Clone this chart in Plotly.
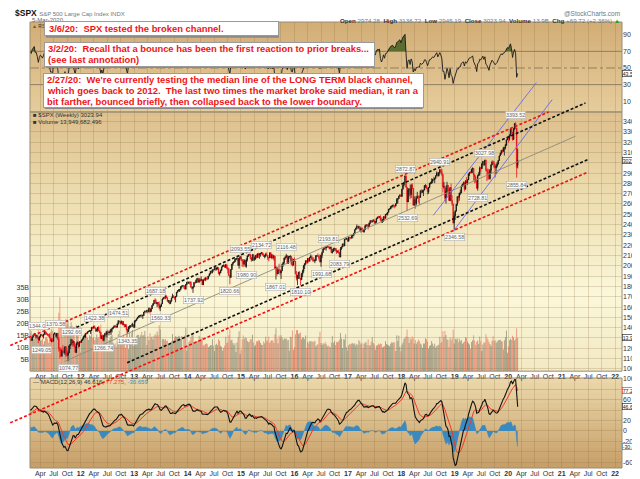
import numpy as np
import pandas as pd
import plotly.graph_objects as go

# ---------------- data (weekly, Friday week-ends) ----------------
first_friday = "2010-01-08"

close_2010 = [1144.98, 1136.03, 1091.76, 1073.87, 1066.19, 1075.51, 1109.17, 1104.49,
              1138.70, 1149.99, 1159.90, 1166.59, 1178.10, 1194.37, 1192.13, 1217.28, 1186.69,
              1110.88, 1135.68, 1087.69, 1089.41, 1064.88, 1091.60, 1117.51, 1076.76,
              1022.58, 1077.96, 1064.88, 1102.66, 1101.60, 1121.64, 1079.25, 1071.69, 1064.59,
              1104.51, 1109.55, 1125.59, 1148.67, 1146.24, 1165.15, 1176.19, 1183.08, 1183.26,
              1225.85, 1199.21, 1199.73, 1189.40, 1224.71, 1240.40, 1243.91, 1256.77, 1257.64]

close_2011 = [1271.50, 1293.24, 1283.35, 1276.34, 1310.87, 1329.15, 1343.01, 1319.88,
              1321.15, 1304.28, 1279.20, 1313.80, 1332.41, 1328.17, 1319.68, 1337.38, 1363.61,
              1340.20, 1337.77, 1333.27, 1331.10, 1300.16, 1270.98, 1271.50, 1268.45,
              1339.67, 1343.80, 1316.14, 1345.02, 1292.28, 1199.38, 1178.81, 1123.53, 1176.80,
              1173.97, 1154.23, 1216.01, 1136.43, 1131.42, 1155.46, 1224.58, 1238.25, 1285.09,
              1253.23, 1263.85, 1215.65, 1158.67, 1244.28, 1255.19, 1219.66, 1265.33, 1257.60]
high_2011 = [1278.2, 1293.2, 1296.1, 1299.7, 1311.0, 1330.8, 1344.1, 1342.6,
             1332.3, 1330.9, 1301.2, 1314.8, 1337.9, 1339.5, 1328.2, 1337.5, 1364.6,
             1370.6, 1359.4, 1346.8, 1334.6, 1345.2, 1302.0, 1292.5, 1298.6,
             1341.0, 1356.5, 1343.8, 1347.0, 1347.0, 1307.4, 1208.5, 1208.5, 1190.7,
             1230.7, 1204.4, 1216.0, 1220.4, 1195.9, 1171.4, 1224.6, 1239.0, 1292.7,
             1284.6, 1277.6, 1266.0, 1208.5, 1255.7, 1267.1, 1255.2, 1265.4, 1269.4]
low_2011 = [1257.6, 1262.2, 1271.3, 1275.1, 1276.3, 1307.6, 1324.6, 1294.3,
            1302.6, 1292.0, 1249.1, 1279.2, 1305.3, 1322.9, 1309.7, 1294.7, 1332.2,
            1329.2, 1333.2, 1318.5, 1311.8, 1297.9, 1268.6, 1258.1, 1262.9,
            1268.5, 1333.2, 1306.5, 1295.9, 1282.9, 1168.1, 1101.5, 1122.0, 1121.1,
            1170.8, 1150.4, 1136.2, 1114.2, 1131.1, 1074.8, 1157.5, 1191.5, 1231.0,
            1215.4, 1226.6, 1209.4, 1158.7, 1158.7, 1231.5, 1202.4, 1212.6, 1248.6]
volume_2011 = [14.8, 15.2, 16.0, 16.8, 15.5, 14.2, 13.5, 15.9,
               15.0, 15.3, 19.8, 13.2, 12.8, 13.0, 13.6, 11.2, 12.5,
               14.0, 14.3, 13.6, 11.9, 15.8, 16.5, 17.6, 16.9,
               13.4, 12.4, 14.9, 13.6, 16.2, 24.5, 31.0, 21.5, 17.6,
               14.3, 15.8, 17.8, 22.0, 19.5, 21.2, 17.0, 18.8, 20.5,
               19.0, 16.2, 15.8, 11.5, 19.2, 16.0, 18.5, 11.0, 7.8]

close_2012 = [1277.81, 1289.09, 1315.38, 1316.33, 1344.90, 1342.64, 1361.23, 1365.74,
              1369.63, 1370.87, 1404.17, 1397.11, 1408.47, 1398.08, 1370.26, 1378.53, 1403.36,
              1369.10, 1353.39, 1295.22, 1317.82, 1278.04, 1325.66, 1342.84, 1335.02, 1362.16,
              1354.68, 1356.78, 1362.66, 1385.97, 1390.99, 1405.87, 1418.16, 1411.13, 1406.58,
              1437.92, 1465.77, 1460.15, 1440.67, 1460.93, 1428.59, 1433.19, 1411.94,
              1414.20, 1379.85, 1359.88, 1409.15, 1416.18, 1418.07, 1413.58, 1430.15, 1402.43]
high_2012 = [1284.6, 1296.8, 1315.5, 1333.5, 1345.3, 1354.3, 1361.5, 1368.9,
             1378.0, 1373.9, 1405.9, 1409.0, 1419.2, 1422.4, 1398.1, 1392.8, 1406.6,
             1415.3, 1373.9, 1358.5, 1328.5, 1334.9, 1329.0, 1343.1, 1363.5, 1362.2,
             1374.8, 1357.0, 1380.4, 1389.2, 1394.2, 1407.1, 1418.7, 1426.7, 1413.5,
             1438.0, 1474.5, 1467.1, 1460.4, 1471.0, 1461.0, 1464.0, 1433.8,
             1434.3, 1434.3, 1388.8, 1409.2, 1419.7, 1423.7, 1438.6, 1448.0, 1430.2]
low_2012 = [1258.9, 1274.4, 1290.2, 1306.1, 1300.5, 1335.0, 1340.8, 1356.0,
            1363.0, 1340.0, 1370.3, 1386.9, 1391.6, 1392.0, 1357.4, 1362.0, 1358.8,
            1367.9, 1343.1, 1292.0, 1295.2, 1277.0, 1266.7, 1306.6, 1324.4, 1306.6,
            1350.4, 1325.4, 1345.1, 1329.2, 1354.7, 1391.0, 1397.3, 1397.0, 1397.0,
            1398.8, 1429.1, 1451.0, 1430.5, 1440.7, 1425.5, 1428.6, 1403.3,
            1405.9, 1373.0, 1343.4, 1359.9, 1385.4, 1398.1, 1411.9, 1411.9, 1401.6]
volume_2012 = [12.8, 13.9, 15.2, 15.0, 15.5, 14.6, 14.0, 13.2,
               15.1, 14.5, 17.2, 13.9, 14.2, 13.0, 13.9, 15.4, 14.0,
               14.2, 15.6, 19.6, 14.3, 15.1, 13.9, 16.2, 16.6, 17.6,
               10.8, 13.1, 13.9, 14.8, 15.2, 11.9, 11.1, 11.6, 10.2,
               12.6, 15.5, 16.9, 13.6, 13.2, 12.1, 15.3, 14.0,
               9.8, 16.8, 17.6, 9.3, 16.1, 14.2, 15.9, 17.2, 10.6]

close_2013 = [1466.47, 1472.05, 1485.98, 1502.96, 1513.17, 1517.93, 1519.79, 1515.60,
              1518.20, 1551.18, 1560.70, 1556.89, 1569.19, 1553.28, 1588.85, 1555.25, 1582.24,
              1614.42, 1633.70, 1667.47, 1649.60, 1630.74, 1643.38, 1626.73, 1592.43, 1606.28,
              1631.89, 1680.19, 1692.09, 1691.65, 1709.67, 1691.42, 1655.83, 1663.50, 1632.97,
              1655.17, 1687.99, 1709.91, 1691.75, 1690.50, 1703.20, 1744.50, 1759.77,
              1761.64, 1770.61, 1798.18, 1804.76, 1805.81, 1805.09, 1775.32, 1818.32, 1841.40]
high_2013 = [1467.9, 1472.3, 1486.0, 1503.3, 1514.4, 1518.3, 1524.7, 1530.9,
             1525.8, 1552.5, 1563.6, 1564.9, 1570.3, 1573.7, 1597.4, 1588.9, 1585.8,
             1618.5, 1635.0, 1667.5, 1687.2, 1674.2, 1646.5, 1648.7, 1654.2, 1620.1,
             1632.1, 1680.2, 1693.1, 1698.8, 1709.7, 1709.2, 1697.9, 1666.2, 1664.6,
             1664.8, 1691.0, 1729.9, 1712.0, 1700.6, 1704.9, 1745.3, 1759.8,
             1775.2, 1774.5, 1798.2, 1804.8, 1813.6, 1810.0, 1811.5, 1823.8, 1844.9]
low_2013 = [1402.4, 1451.6, 1463.8, 1485.0, 1496.3, 1495.0, 1506.3, 1497.3,
            1485.0, 1514.9, 1547.4, 1538.6, 1546.2, 1539.5, 1553.3, 1536.0, 1555.3,
            1581.3, 1614.4, 1626.7, 1635.5, 1630.7, 1598.2, 1608.1, 1577.7, 1560.3,
            1604.6, 1631.7, 1672.4, 1676.0, 1676.2, 1684.9, 1652.6, 1639.4, 1627.5,
            1633.4, 1655.2, 1688.0, 1687.1, 1670.4, 1646.5, 1700.0, 1740.5,
            1752.7, 1746.2, 1761.6, 1780.0, 1799.1, 1779.1, 1772.3, 1767.9, 1819.0]
volume_2013 = [12.9, 13.6, 14.8, 15.3, 15.2, 14.1, 15.0, 16.4,
               14.9, 15.0, 16.8, 14.2, 11.0, 14.6, 13.1, 15.9, 14.1,
               14.5, 13.3, 14.8, 15.6, 14.9, 16.6, 15.0, 19.2, 17.5,
               9.8, 13.4, 13.6, 13.0, 13.5, 12.6, 12.8, 11.2, 11.4,
               11.2, 12.4, 15.6, 13.0, 14.0, 14.6, 14.4, 14.3,
               14.8, 14.5, 13.4, 14.7, 9.1, 14.2, 14.9, 18.2, 8.7]

close_2014 = [1831.37, 1842.37, 1838.70, 1790.29, 1782.59, 1797.02, 1838.63, 1836.25, 1859.45,
              1878.04, 1841.13, 1866.52, 1857.62, 1865.09, 1815.69, 1864.85, 1863.40,
              1881.14, 1878.48, 1877.86, 1900.53, 1923.57, 1949.44, 1936.16, 1962.87, 1960.96,
              1985.44, 1967.57, 1978.22, 1978.34, 1925.15, 1931.59, 1955.06, 1988.40, 2003.37,
              2007.71, 1985.54, 2010.40, 1982.85, 1967.90, 1906.13, 1886.76, 1964.58, 2018.05,
              2031.92, 2039.82, 2063.50, 2067.56, 2075.37, 2002.33, 2070.65, 2088.77]
high_2014 = [1849.4, 1843.2, 1850.8, 1849.3, 1798.8, 1798.0, 1841.6, 1846.5, 1867.9,
             1883.6, 1878.0, 1884.0, 1875.2, 1897.3, 1868.4, 1869.6, 1884.9,
             1891.3, 1885.1, 1902.2, 1901.3, 1924.0, 1949.4, 1955.6, 1963.9, 1968.2,
             1985.6, 1985.6, 1983.9, 1991.4, 1985.2, 1942.9, 1964.0, 1994.8, 2005.0,
             2011.2, 2007.7, 2019.3, 2009.1, 1986.2, 1977.8, 1912.1, 1965.3, 2018.2,
             2034.3, 2046.2, 2071.5, 2075.8, 2079.5, 2074.6, 2077.9, 2093.6]
low_2014 = [1827.7, 1823.7, 1815.3, 1790.3, 1770.5, 1737.9, 1791.8, 1824.6, 1834.4,
            1834.6, 1839.6, 1839.7, 1842.4, 1859.1, 1814.4, 1816.0, 1859.7,
            1850.6, 1859.8, 1862.4, 1868.1, 1900.5, 1915.9, 1925.8, 1927.1, 1944.7,
            1958.2, 1952.9, 1955.6, 1962.4, 1916.4, 1904.8, 1928.8, 1956.0, 1988.4,
            1990.1, 1985.2, 1978.5, 1965.0, 1926.0, 1905.0, 1820.7, 1886.8, 1961.0,
            2001.0, 2030.2, 2034.5, 2063.0, 2049.6, 2002.3, 1972.6, 2068.0]
volume_2014 = [10.6, 12.2, 12.9, 14.3, 15.4, 15.0, 12.0, 11.5, 12.5,
               12.6, 12.7, 14.8, 12.9, 13.6, 14.2, 10.9, 10.8,
               11.4, 11.7, 11.3, 10.0, 10.4, 10.9, 11.0, 13.4, 10.7,
               8.5, 11.1, 11.5, 10.9, 13.5, 12.7, 10.7, 10.2, 8.6,
               9.8, 10.8, 14.4, 11.8, 12.1, 15.1, 17.5, 12.9, 13.3,
               11.8, 11.0, 11.7, 8.0, 12.0, 14.3, 16.7, 7.3]

close_2015 = [2058.20, 2044.81, 2019.42, 2051.82, 1994.99, 2055.47, 2096.99, 2110.30, 2104.50,
              2071.26, 2053.40, 2108.10, 2061.02, 2066.96, 2102.06, 2081.18, 2117.69,
              2108.29, 2116.10, 2122.73, 2126.06, 2107.39, 2092.83, 2094.11, 2109.99, 2101.49,
              2076.78, 2076.62, 2126.64, 2079.65, 2103.84, 2077.57, 2091.54, 1970.89, 1988.87,
              1921.22, 1961.05, 1958.03, 1931.34, 1951.36, 2014.89, 2033.11, 2075.15, 2079.36,
              2099.20, 2023.04, 2089.17, 2090.11, 2091.69, 2012.37, 2005.55, 2060.99, 2043.94]
high_2015 = [2093.6, 2064.4, 2064.4, 2064.6, 2057.6, 2072.4, 2097.0, 2110.6, 2119.6,
             2117.5, 2083.5, 2114.9, 2114.9, 2090.0, 2102.6, 2111.9, 2120.9,
             2125.9, 2117.6, 2123.9, 2134.7, 2129.5, 2121.9, 2108.0, 2126.7, 2130.0,
             2101.5, 2083.4, 2128.7, 2132.8, 2114.2, 2112.7, 2105.4, 2096.2, 1993.5,
             1987.7, 1975.0, 2020.9, 1970.0, 1953.0, 2020.1, 2033.5, 2079.7, 2094.3,
             2116.5, 2093.8, 2097.1, 2094.1, 2104.3, 2090.4, 2076.7, 2067.7, 2081.6]
low_2015 = [2046.0, 1992.4, 1988.1, 2004.5, 1989.2, 1980.9, 2041.9, 2085.4, 2098.0,
            2066.4, 2039.7, 2050.0, 2045.5, 2048.4, 2059.8, 2072.4, 2079.1,
            2077.6, 2067.9, 2089.4, 2111.1, 2099.2, 2085.7, 2072.1, 2084.0, 2098.3,
            2056.3, 2044.0, 2076.6, 2079.0, 2063.5, 2067.9, 2052.1, 1970.8, 1867.0,
            1903.1, 1921.2, 1950.0, 1908.8, 1871.9, 1951.4, 1991.0, 2013.3, 2058.8,
            2080.0, 2022.0, 2019.4, 2070.3, 2042.4, 2011.1, 1993.3, 2005.9, 2043.6]
volume_2015 = [9.0, 13.3, 14.9, 13.6, 14.3, 13.9, 12.6, 12.1, 12.4,
               13.5, 13.3, 15.3, 12.0, 10.4, 11.1, 12.5, 12.4,
               13.0, 12.8, 11.8, 11.1, 11.0, 12.4, 11.7, 14.4, 12.8,
               12.4, 14.4, 11.8, 12.6, 13.0, 12.9, 11.8, 15.5, 18.0,
               13.8, 11.7, 14.9, 13.9, 15.0, 14.1, 13.0, 13.7, 13.6,
               13.7, 13.0, 13.1, 8.6, 14.4, 14.3, 17.0, 9.0, 10.1]

close_2016 = [1922.03, 1880.33, 1906.90, 1940.24, 1880.05, 1864.78, 1917.78, 1948.05,
              1999.99, 2022.19, 2049.58, 2035.94, 2072.78, 2047.60, 2080.73, 2091.58, 2065.30,
              2057.14, 2046.61, 2052.32, 2099.06, 2099.13, 2096.07, 2071.22, 2037.41,
              2102.95, 2129.90, 2161.74, 2175.03, 2173.60, 2182.87, 2184.05, 2183.87, 2169.04,
              2179.98, 2127.81, 2139.16, 2164.69, 2168.27, 2153.74, 2132.98, 2141.16, 2126.41,
              2085.18, 2164.45, 2181.90, 2213.35, 2191.95, 2259.53, 2258.07, 2263.79, 2238.83]
high_2016 = [2038.2, 1950.3, 1908.9, 1940.2, 1947.2, 1881.6, 1930.7, 1962.9,
             2009.1, 2022.4, 2052.4, 2056.6, 2074.0, 2072.6, 2087.8, 2111.1, 2099.9,
             2083.4, 2084.9, 2064.2, 2099.1, 2104.0, 2120.6, 2096.1, 2113.3,
             2104.0, 2131.7, 2169.1, 2175.6, 2177.1, 2182.9, 2188.5, 2193.8, 2187.9,
             2184.9, 2187.9, 2163.3, 2175.3, 2175.3, 2169.6, 2169.6, 2148.4, 2154.8,
             2131.4, 2182.3, 2188.1, 2213.4, 2214.1, 2259.8, 2277.5, 2273.0, 2268.9]
low_2016 = [1918.5, 1857.8, 1812.3, 1872.7, 1872.7, 1810.1, 1864.8, 1891.0,
            1931.8, 1969.3, 2008.2, 2022.5, 2022.5, 2033.8, 2039.7, 2075.8, 2053.1,
            2039.5, 2043.1, 2025.9, 2047.3, 2085.4, 2088.8, 2050.4, 2032.1,
            1991.7, 2074.0, 2131.3, 2154.8, 2157.0, 2147.6, 2178.0, 2175.0, 2160.4,
            2157.1, 2127.8, 2119.1, 2139.2, 2145.0, 2142.6, 2114.7, 2126.0, 2119.4,
            2083.8, 2084.0, 2156.1, 2183.0, 2187.4, 2192.4, 2248.4, 2253.8, 2233.6]
volume_2016 = [15.5, 17.3, 17.1, 15.7, 15.8, 16.2, 13.4, 14.2,
               14.1, 13.5, 14.9, 9.7, 12.3, 11.6, 12.6, 12.4, 12.5,
               12.4, 12.2, 12.7, 10.3, 11.0, 11.4, 14.3, 16.5,
               11.8, 11.0, 11.7, 11.3, 12.2, 11.5, 10.4, 10.8, 10.3,
               10.0, 12.0, 14.6, 11.8, 12.6, 11.0, 12.3, 12.1, 12.5,
               13.2, 16.0, 13.7, 9.7, 13.4, 13.3, 15.5, 10.0, 8.7]

close_2017 = [2276.98, 2274.64, 2271.31, 2294.69, 2297.42, 2316.10, 2351.16, 2367.34,
              2383.12, 2372.60, 2378.25, 2343.98, 2362.72, 2355.54, 2328.95, 2348.69, 2384.20,
              2399.29, 2390.90, 2381.73, 2415.82, 2439.07, 2431.77, 2433.15, 2438.30, 2423.41,
              2425.18, 2459.27, 2472.54, 2472.10, 2476.83, 2441.32, 2425.55, 2443.05,
              2476.55, 2461.43, 2500.23, 2502.22, 2519.36, 2549.33, 2553.17, 2575.21, 2581.07,
              2587.84, 2582.30, 2578.85, 2602.42, 2642.22, 2651.50, 2675.81, 2683.34, 2673.61]
high_2017 = [2282.1, 2279.3, 2278.7, 2301.0, 2299.4, 2319.2, 2351.3, 2368.3,
             2401.0, 2383.9, 2390.0, 2382.4, 2370.4, 2378.4, 2361.7, 2355.9, 2398.2,
             2399.3, 2403.9, 2405.8, 2418.7, 2440.2, 2446.2, 2440.3, 2453.8, 2450.4,
             2434.0, 2463.5, 2477.6, 2484.0, 2480.4, 2490.9, 2468.2, 2454.8,
             2480.4, 2474.5, 2500.2, 2508.9, 2519.4, 2552.5, 2557.6, 2575.4, 2583.0,
             2588.4, 2597.0, 2588.0, 2604.2, 2657.7, 2652.5, 2679.6, 2695.0, 2692.1]
low_2017 = [2245.1, 2254.3, 2258.8, 2263.2, 2267.2, 2288.4, 2312.0, 2355.1,
            2358.9, 2354.5, 2356.0, 2335.7, 2322.3, 2344.5, 2328.9, 2322.0, 2349.0,
            2379.0, 2381.6, 2352.7, 2381.7, 2403.6, 2415.7, 2419.0, 2431.3, 2405.7,
            2407.7, 2415.0, 2452.8, 2459.9, 2463.4, 2437.8, 2417.4, 2417.0,
            2428.2, 2446.6, 2474.5, 2496.0, 2488.0, 2520.4, 2543.8, 2547.9, 2557.4,
            2566.2, 2566.3, 2557.5, 2580.5, 2600.3, 2605.5, 2650.6, 2676.1, 2673.6]
volume_2017 = [11.0, 11.5, 11.3, 11.6, 11.8, 11.4, 11.7, 10.6,
               11.4, 11.0, 13.0, 12.3, 11.3, 11.8, 9.7, 11.5, 12.0,
               12.1, 11.0, 13.4, 10.7, 11.0, 12.4, 14.3, 11.8, 11.2,
               9.0, 10.6, 11.0, 11.6, 11.2, 11.6, 11.4, 9.9,
               10.2, 10.5, 12.5, 11.4, 11.1, 10.9, 10.4, 11.5, 12.1,
               11.9, 12.2, 12.0, 8.5, 15.1, 12.6, 14.8, 10.2, 8.3]

close_2018 = [2743.15, 2786.24, 2810.30, 2872.87, 2762.13, 2619.55, 2732.22, 2747.30,
              2691.25, 2786.57, 2752.01, 2588.26, 2640.87, 2604.47, 2656.30, 2670.14, 2669.91,
              2663.42, 2727.72, 2712.97, 2721.33, 2734.62, 2779.03, 2779.66, 2754.88, 2718.37,
              2759.82, 2801.31, 2801.83, 2818.82, 2840.35, 2833.28, 2850.13, 2874.69, 2901.52,
              2871.68, 2904.98, 2929.67, 2913.98, 2885.57, 2767.13, 2767.78, 2658.69,
              2723.06, 2781.01, 2736.27, 2632.56, 2760.17, 2633.08, 2599.95, 2416.62, 2485.74]
high_2018 = [2743.5, 2787.8, 2810.3, 2872.9, 2870.6, 2763.4, 2754.4, 2747.8,
             2789.2, 2786.6, 2801.9, 2754.0, 2674.8, 2672.1, 2680.3, 2717.5, 2683.6,
             2682.9, 2732.9, 2742.1, 2739.2, 2736.9, 2779.9, 2791.5, 2780.2, 2752.7,
             2763.4, 2804.5, 2814.2, 2848.0, 2841.6, 2863.4, 2855.6, 2876.2, 2916.5,
             2906.3, 2908.3, 2940.9, 2939.9, 2939.9, 2889.4, 2813.3, 2778.9,
             2756.6, 2815.2, 2776.0, 2746.8, 2760.9, 2800.2, 2685.4, 2601.1, 2520.3]
low_2018 = [2682.4, 2743.3, 2769.6, 2808.1, 2760.0, 2532.7, 2622.4, 2675.8,
            2647.3, 2658.9, 2741.4, 2585.9, 2593.1, 2553.8, 2586.3, 2660.0, 2612.7,
            2594.6, 2662.3, 2701.9, 2707.4, 2676.8, 2741.7, 2754.1, 2744.4, 2692.0,
            2698.7, 2770.8, 2789.2, 2795.1, 2802.5, 2825.8, 2802.0, 2846.0, 2884.7,
            2864.1, 2868.3, 2886.9, 2903.3, 2874.0, 2710.5, 2749.0, 2628.2,
            2603.5, 2704.9, 2670.8, 2631.1, 2649.8, 2621.5, 2583.2, 2408.6, 2346.6]
volume_2018 = [11.2, 12.0, 13.6, 13.9, 14.6, 17.5, 14.3, 11.8,
               14.0, 13.3, 14.5, 13.9, 11.6, 13.1, 11.5, 12.2, 13.3,
               12.6, 11.6, 11.2, 9.8, 11.6, 11.6, 13.8, 13.4, 12.3,
               9.4, 10.5, 11.0, 12.6, 11.6, 10.5, 11.5, 9.8, 10.5,
               10.9, 11.1, 14.4, 11.8, 12.3, 16.7, 14.2, 16.8,
               15.2, 13.3, 13.2, 10.1, 14.1, 12.9, 13.8, 17.5, 11.6]

close_2019 = [2531.94, 2596.26, 2670.71, 2664.76, 2706.53, 2707.88, 2775.60, 2792.67,
              2803.69, 2743.07, 2822.48, 2800.71, 2834.40, 2892.74, 2907.41, 2905.03, 2939.88,
              2945.64, 2881.40, 2859.53, 2826.06, 2752.06, 2873.34, 2886.98, 2950.46, 2941.76,
              2990.41, 3013.77, 2976.61, 3025.86, 2932.05, 2918.65, 2888.68, 2847.11, 2926.46,
              2978.71, 3007.39, 2992.07, 2961.79, 2952.01, 2970.27, 2986.20, 3022.55,
              3066.91, 3093.08, 3120.46, 3110.29, 3140.98, 3145.91, 3168.79, 3221.22, 3240.02]
high_2019 = [2538.1, 2597.8, 2675.5, 2681.8, 2709.0, 2739.0, 2775.7, 2794.0,
             2816.9, 2813.5, 2830.7, 2860.3, 2836.0, 2893.4, 2910.5, 2918.0, 2940.0,
             2954.1, 2931.7, 2892.2, 2876.0, 2840.0, 2884.9, 2910.6, 2964.2, 2958.1,
             2995.8, 3013.9, 3017.8, 3028.0, 3029.0, 2944.0, 2943.3, 2939.1, 2940.4,
             2985.9, 3020.7, 3022.0, 3016.4, 2983.9, 2993.3, 3008.3, 3027.4,
             3067.0, 3097.8, 3120.5, 3127.6, 3154.3, 3150.6, 3182.7, 3225.6, 3247.9]
low_2019 = [2444.0, 2524.6, 2580.3, 2612.7, 2631.1, 2687.3, 2703.7, 2767.0,
            2772.4, 2722.3, 2739.9, 2800.0, 2785.0, 2848.6, 2873.0, 2897.0, 2898.0,
            2898.7, 2825.4, 2801.4, 2805.5, 2750.5, 2728.8, 2873.0, 2874.7, 2912.2,
            2963.4, 2966.4, 2975.4, 2976.6, 2914.1, 2822.1, 2835.0, 2835.0, 2836.8,
            2891.9, 2979.4, 2990.0, 2946.0, 2855.9, 2892.0, 2955.0, 2986.2,
            3022.3, 3065.5, 3078.0, 3091.4, 3114.0, 3070.3, 3128.5, 3183.5, 3223.0]
volume_2019 = [13.6, 13.3, 13.8, 12.1, 13.6, 12.5, 13.1, 11.5,
               12.0, 12.4, 14.2, 14.0, 12.3, 11.7, 11.2, 9.4, 12.2,
               13.0, 15.0, 12.8, 11.1, 12.2, 12.8, 11.4, 14.5, 12.5,
               8.4, 11.2, 12.1, 11.9, 15.5, 14.1, 13.3, 12.2, 11.4,
               10.5, 12.7, 14.6, 12.7, 13.0, 11.9, 12.4, 13.0,
               13.1, 13.2, 12.5, 12.4, 9.1, 13.0, 14.2, 17.0, 7.7]

close_2020 = [3234.85, 3265.35, 3329.62, 3295.47, 3225.52, 3327.71, 3380.16, 3337.75, 2954.22, 3023.94]
high_2020 = [3258.1, 3275.6, 3329.9, 3337.8, 3285.9, 3337.6, 3385.1, 3393.5, 3259.8, 3136.7]
low_2020 = [3195.0, 3214.6, 3256.6, 3281.5, 3214.7, 3223.3, 3315.2, 3328.4, 2855.8, 2945.2]
volume_2020 = [10.4, 13.0, 13.6, 13.2, 14.8, 14.1, 12.9, 13.6, 18.0, 13.95]

last_week_open = 2974.28

# pivot labels
pivot_dates = ["2011-02-18", "2011-03-18", "2011-05-06", "2011-10-07", "2011-10-28",
               "2012-04-06", "2012-06-08", "2012-09-14", "2012-11-16", "2013-05-24",
               "2013-06-28", "2014-02-07", "2014-10-17", "2014-12-26", "2015-02-06",
               "2015-05-22", "2015-08-28", "2015-11-06", "2016-02-12", "2016-07-01",
               "2016-08-19", "2016-11-04", "2018-01-26", "2018-02-09", "2018-09-21",
               "2018-12-28", "2019-06-07", "2019-07-26", "2020-02-21", "2020-02-28"]
pivot_values = [1344.07, 1249.05, 1370.58, 1074.77, 1292.66, 1422.38, 1266.74, 1474.51, 1343.35, 1687.18,
                1560.33, 1737.92, 1820.66, 2093.55, 1980.90, 2134.72, 1867.01, 2116.48, 1810.10, 1991.68,
                2193.81, 2083.79, 2872.87, 2532.69, 2940.91, 2346.58, 2728.81, 3027.98, 3393.52, 2855.84]
pivot_kind = ["H", "L", "H", "L", "H", "H", "L", "H", "L", "H",
              "L", "L", "L", "H", "L", "H", "L", "H", "L", "L",
              "H", "L", "H", "L", "H", "L", "L", "H", "H", "L"]
pivot_nudge = {0: 4, 1: 3, 2: 10}

# trend / channel lines: (start date, start price, end date, end price)
upper_red = ("2010-09-07", 1226.8, "2020-10-04", 3493.4)
lower_red = ("2010-09-07", 477.2, "2021-07-02", 2910.8)
upper_black = ("2011-09-01", 1344.7, "2021-06-12", 3579.8)
median_line = ("2011-09-14", 1073.3, "2021-04-05", 3257.6)
lower_black = ("2012-11-14", 1060.6, "2021-07-02", 3032.7)
blue_upper = ("2018-08-07", 2489.6, "2020-07-12", 3777.0)
blue_lower = ("2018-12-20", 2332.0, "2020-10-28", 3613.0)

note_lines = [
    ["3/6/20:\u00a0 SPX tested the broken channel."],
    ["3/2/20:\u00a0 Recall that a bounce has been the first reaction to prior breaks...",
     "(see last annotation)"],
    ["2/27/20:\u00a0 We're currently testing the median line of the LONG TERM black channel,",
     "which goes back to 2012.\u00a0 The last two times the market broke said median, it ran a",
     "bit farther, bounced briefly, then collapsed back to the lower boundary."],
]

price_ticks = list(range(1000, 3401, 100))
price_hidden = [3000, 1300]
volume_ticks = [5, 10, 15, 20, 25, 30, 35]
rsi_ticks = [10, 30, 50, 70, 90]
macd_ticks = [-60, -40, -20, 0, 20, 40, 60, 80, 100]
macd_hidden = [80, 40, -40]
month_names = {4: "Apr", 7: "Jul", 10: "Oct"}

quote_open, quote_high, quote_low, quote_close = "2974.28", "3136.72", "2945.19", "3023.94"
quote_volume, quote_chg = "13.9B", "+69.72 (+2.36%)"
volume_full = "13,949,682,496"
macd_text = ("46.616", "77.275", "-30.659")

# ---------------- assemble ----------------
years = list(range(2011, 2021))
G = globals()
for y in years:
    n = len(G["close_%d" % y])
    for k in ("high", "low", "volume"):
        if len(G["%s_%d" % (k, y)]) != n:
            raise ValueError("length mismatch %s_%d" % (k, y))

closes = list(close_2010)
highs, lows, vols = [], [], []
for y in years:
    closes += G["close_%d" % y]
    highs += G["high_%d" % y]
    lows += G["low_%d" % y]
    vols += G["volume_%d" % y]

dates = pd.date_range(first_friday, periods=len(closes), freq="W-FRI")
nv = len(highs)
vdates = dates[-nv:]
vclose = closes[-nv:]
prev_close = closes[-nv - 1:-1]
opens = list(prev_close)
opens[-1] = last_week_open

cs = pd.Series(closes, dtype=float)
delta = cs.diff()
ag = delta.clip(lower=0).ewm(alpha=1 / 14, adjust=False).mean()
al = (-delta.clip(upper=0)).ewm(alpha=1 / 14, adjust=False).mean()
rsi = (100 - 100 / (1 + ag / al)).values
rsi[:14] = np.nan
macd = (cs.ewm(span=12, adjust=False).mean() - cs.ewm(span=26, adjust=False).mean()).values
signal = pd.Series(macd).ewm(span=9, adjust=False).mean().values
hist = macd - signal

# ---------------- layout geometry ----------------
W, H = 640, 479
ML, MR, MT, MB = 20, 23, 14, 9
PW, PH = W - ML - MR, H - MT - MB


def PX(x):
    return (x - ML) / PW


def PY(y):
    return (H - MB - y) / PH


RSI_TOP, RSI_BOT = 14, 106
MAIN_TOP, MAIN_BOT = 106, 371
MACD_TOP, MACD_BOT = 378, 470
rsi_dom = [PY(RSI_BOT), PY(RSI_TOP)]
main_dom = [PY(MAIN_BOT), PY(MAIN_TOP)]
macd_dom = [PY(MACD_BOT), PY(MACD_TOP)]

x_range = ["2011-01-20", "2022-02-17"]
price_range = [978.2, 3492.4]
vol_range = [0, 108.6]
rsi_range = [-2.9, 105.3]
macd_range = [-71.4, 101.9]

X0, X1 = pd.Timestamp(x_range[0]), pd.Timestamp(x_range[1])


def date_to_paper(d):
    return (pd.Timestamp(d) - X0) / (X1 - X0)


def price_to_paper(p):
    return main_dom[0] + (p - price_range[0]) / (price_range[1] - price_range[0]) * (main_dom[1] - main_dom[0])


fig = go.Figure()


def hex2rgb(h):
    h = h.lstrip("#")
    return [int(h[i:i + 2], 16) for i in (0, 2, 4)]


def grad_color(stops, t):
    for (t0, c0), (t1, c1) in zip(stops[:-1], stops[1:]):
        if t <= t1:
            f = (t - t0) / (t1 - t0) if t1 > t0 else 0
            a, b = hex2rgb(c0), hex2rgb(c1)
            return "rgb(%d,%d,%d)" % tuple(round(a[i] + (b[i] - a[i]) * f) for i in range(3))
    return stops[-1][1]


def add_gradient(top, bot, stops, n):
    step = (bot - top) / n
    for i in range(n):
        y0 = top + i * step
        y1 = min(bot, y0 + step + 0.7)
        fig.add_shape(type="rect", xref="paper", yref="paper", x0=0, x1=1,
                      y0=PY(y1), y1=PY(y0), line_width=0, layer="below",
                      fillcolor=grad_color(stops, (i + 0.5) / n))


add_gradient(RSI_TOP, RSI_BOT, [(0, "#d2ad76"), (1, "#e6cd9d")], 18)
add_gradient(MAIN_TOP, MAIN_BOT, [(0, "#dcbf8c"), (0.35, "#eedfb2"), (0.7, "#fbf7d9"), (1, "#f3e9c3")], 50)
add_gradient(MACD_TOP, MACD_BOT, [(0, "#ebd8ab"), (1, "#c69e67")], 18)

# ---- traces ----
vol_colors = ["rgba(90,90,75,0.55)" if c >= o else "rgba(225,75,55,0.55)"
              for c, o in zip(vclose, prev_close)]
fig.add_trace(go.Bar(x=vdates, y=vols, marker=dict(color=vol_colors, line_width=0),
                     width=6 * 86400000, xaxis="x", yaxis="y2", hoverinfo="skip"))

fig.add_trace(go.Candlestick(x=vdates, open=opens, high=highs, low=lows, close=vclose,
                             xaxis="x", yaxis="y3", whiskerwidth=0,
                             increasing=dict(line=dict(color="#111111", width=0.8), fillcolor="#111111"),
                             decreasing=dict(line=dict(color="#e8101a", width=0.8), fillcolor="#e8101a"),
                             hoverinfo="skip"))

fig.add_trace(go.Scatter(x=dates, y=[70] * len(dates), mode="lines", line=dict(width=0),
                         xaxis="x2", yaxis="y", hoverinfo="skip"))
fig.add_trace(go.Scatter(x=dates, y=np.maximum(rsi, 70), mode="lines", line=dict(width=0),
                         fill="tonexty", fillcolor="#5b6c31", xaxis="x2", yaxis="y", hoverinfo="skip"))
fig.add_trace(go.Scatter(x=dates, y=rsi, mode="lines", line=dict(color="#1a1a1a", width=0.9),
                         xaxis="x2", yaxis="y", hoverinfo="skip"))

fig.add_trace(go.Scatter(x=dates, y=hist, mode="lines", line=dict(color="#3a89bf", width=0.5),
                         fill="tozeroy", fillcolor="#3a89bf", xaxis="x3", yaxis="y4", hoverinfo="skip"))
fig.add_trace(go.Scatter(x=dates, y=signal, mode="lines", line=dict(color="#f03a2a", width=1.0),
                         xaxis="x3", yaxis="y4", hoverinfo="skip"))
fig.add_trace(go.Scatter(x=dates, y=macd, mode="lines", line=dict(color="#111111", width=1.1),
                         xaxis="x3", yaxis="y4", hoverinfo="skip"))

# ---- axes ----
tickvals, ticktext = [], []
for y in range(2011, 2023):
    for m in (1, 4, 7, 10):
        tickvals.append("%d-%02d-01" % (y, m))
        ticktext.append("<b>%02d</b>" % (y % 100) if m == 1 else month_names[m])

grid_c = "rgba(130,105,60,0.22)"
tick_font = dict(size=7, color="#333333", family="Liberation Sans, Arial, sans-serif")
xcommon = dict(type="date", range=x_range, tickvals=tickvals, ticktext=ticktext, showgrid=True,
               gridcolor=grid_c, gridwidth=1, ticks="", tickfont=tick_font, zeroline=False,
               showline=False, fixedrange=True)

fig.update_layout(
    width=W, height=H, margin=dict(l=ML, r=MR, t=MT, b=MB, pad=0),
    paper_bgcolor="white", plot_bgcolor="rgba(0,0,0,0)", showlegend=False, hovermode=False,
    font=dict(family="Liberation Sans, Arial, sans-serif", size=7, color="#333"),
    xaxis=dict(xcommon, anchor="y2", rangeslider=dict(visible=False), showticklabels=True),
    xaxis2=dict(xcommon, anchor="y", matches="x", showticklabels=False),
    xaxis3=dict(xcommon, anchor="y4", matches="x", showticklabels=True),
    yaxis=dict(domain=rsi_dom, range=rsi_range, side="right", anchor="x2", tickvals=rsi_ticks,
               showgrid=False, zeroline=False, ticks="", tickfont=tick_font, fixedrange=True),
    yaxis2=dict(domain=main_dom, range=vol_range, side="left", anchor="x",
                tickvals=volume_ticks, ticktext=["%dB" % v for v in volume_ticks],
                showgrid=False, zeroline=False, ticks="", tickfont=tick_font, fixedrange=True),
    yaxis3=dict(range=price_range, side="right", overlaying="y2", anchor="x", tickvals=price_ticks,
                ticktext=["" if v in price_hidden else str(v) for v in price_ticks],
                showgrid=True, gridcolor=grid_c, zeroline=False, ticks="", tickfont=tick_font,
                fixedrange=True),
    yaxis4=dict(domain=macd_dom, range=macd_range, side="right", anchor="x3", tickvals=macd_ticks,
                ticktext=["" if v in macd_hidden else str(v) for v in macd_ticks],
                showgrid=True, gridcolor=grid_c, zeroline=False, ticks="", tickfont=tick_font,
                fixedrange=True),
)

for lvl, dash in ((70, "solid"), (30, "solid"), (50, "dashdot")):
    fig.add_shape(type="line", xref="paper", yref="y", x0=0, x1=1, y0=lvl, y1=lvl,
                  line=dict(color="#8f7f60", width=1, dash=dash), layer="below")

for top, bot in ((RSI_TOP, RSI_BOT), (MAIN_TOP, MAIN_BOT), (MACD_TOP, MACD_BOT)):
    fig.add_shape(type="rect", xref="paper", yref="paper", x0=0, x1=1, y0=PY(bot), y1=PY(top),
                  line=dict(color="#9a8c70", width=1), fillcolor="rgba(0,0,0,0)", layer="above")


def add_line(spec, color, width, dash):
    d0, p0, d1, p1 = spec
    fig.add_shape(type="line", xref="paper", yref="paper",
                  x0=date_to_paper(d0), y0=price_to_paper(p0),
                  x1=date_to_paper(d1), y1=price_to_paper(p1),
                  line=dict(color=color, width=width, dash=dash), layer="above")


add_line(median_line, "#8c8a7a", 0.9, "solid")
add_line(blue_upper, "#6b6bf0", 0.9, "solid")
add_line(blue_lower, "#6b6bf0", 0.9, "solid")
add_line(upper_black, "#111111", 1.6, "3px,2px")
add_line(lower_black, "#111111", 1.6, "3px,2px")
add_line(upper_red, "#f01010", 1.6, "3px,2px")
add_line(lower_red, "#f01010", 1.6, "3px,2px")

ann = []
for i, (d, v, k) in enumerate(zip(pivot_dates, pivot_values, pivot_kind)):
    ann.append(dict(x=d, y=v, xref="x", yref="y3", text="%.2f" % v, showarrow=False,
                    yanchor="bottom" if k == "H" else "top", yshift=3 if k == "H" else -3,
                    xshift=pivot_nudge.get(i, 0),
                    font=dict(size=5.3, color="#666"), bgcolor="rgba(255,255,255,0.9)",
                    bordercolor="#b0b0b0", borderwidth=0.6, borderpad=0.4))

ann.append(dict(x=PX(3), y=PY(5), xref="paper", yref="paper", xanchor="left", yanchor="middle",
                showarrow=False, align="left",
                text="<b>$SPX</b> <span style='color:#777;font-size:6px'>S&P 500 Large Cap Index INDX</span>",
                font=dict(size=8.5, color="#111", family="Liberation Sans, Arial, sans-serif")))
ann.append(dict(x=PX(20), y=PY(12), xref="paper", yref="paper", xanchor="left", yanchor="middle",
                showarrow=False, text="5-Mar-2020", font=dict(size=6, color="#666")))
ann.append(dict(x=1, y=PY(5), xref="paper", yref="paper", xanchor="right", yanchor="middle",
                showarrow=False, text="@StockCharts.com", font=dict(size=6.5, color="#777")))
q = ("<b>Open</b> <span style='color:#777'>%s</span>\u00a0 <b>High</b> <span style='color:#777'>%s</span>\u00a0 "
     "<b>Low</b> <span style='color:#777'>%s</span>\u00a0 <b>Close</b> <span style='color:#777'>%s</span>\u00a0 "
     "<b>Volume</b> <span style='color:#777'>%s</span>\u00a0 <b>Chg</b> <span style='color:#777'>%s</span> "
     "<span style='color:#2a9a2a'>\u25b2</span>") % (quote_open, quote_high, quote_low, quote_close,
                                                     quote_volume, quote_chg)
ann.append(dict(x=1, y=PY(12), xref="paper", yref="paper", xanchor="right", yanchor="middle",
                showarrow=False, text=q, font=dict(size=6.2, color="#333")))

rsi_last = rsi[-1]
ann.append(dict(x=PX(20.5), y=PY(18), xref="paper", yref="paper", xanchor="left", yanchor="middle",
                showarrow=False, text="<span style='color:#4a6a20'>\u25b2</span> RSI",
                font=dict(size=5, color="#333")))
ann.append(dict(x=PX(21), y=PY(109), xref="paper", yref="paper", xanchor="left", yanchor="middle",
                showarrow=False, text="\u25a0 $SPX (Weekly) %s" % quote_close, font=dict(size=6, color="#333")))
ann.append(dict(x=PX(21), y=PY(116), xref="paper", yref="paper", xanchor="left", yanchor="middle",
                showarrow=False, text="\u25a0 Volume %s" % volume_full, font=dict(size=6, color="#333")))
ann.append(dict(x=PX(21), y=PY(382), xref="paper", yref="paper", xanchor="left", yanchor="middle",
                showarrow=False,
                text="\u2014 MACD(12,26,9) %s, <span style='color:#f03a2a'>%s</span>, "
                     "<span style='color:#3a89bf'>%s</span>" % macd_text,
                font=dict(size=6, color="#333")))


def marker(yval, yref, text, border):
    ann.append(dict(x=PX(617.5), y=yval, xref="paper", yref=yref, xanchor="left", yanchor="middle",
                    showarrow=False, text=text, font=dict(size=5.2, color="#222"),
                    bgcolor="white", bordercolor=border, borderwidth=0.7, borderpad=0))


marker(float(quote_close), "y3", quote_close, "#333")
marker(vols[-1], "y2", "%.2fB" % vols[-1], "#333")
marker(rsi_last, "y", "%.2f" % rsi_last, "#333")
marker(float(macd_text[1]), "y4", macd_text[1], "#f03a2a")
marker(float(macd_text[0]), "y4", macd_text[0], "#333")
marker(float(macd_text[2]), "y4", macd_text[2], "#3a89bf")

# annotation boxes (white box with drop shadow) and their text lines
boxes = [(34, 13, 269, 28), (34, 34, 365, 59), (33, 66, 414, 101)]
line_y = [[20.5], [41.5, 52.5], [72.5, 83.7, 95.0]]
text_x = [37, 36, 35]
for (x0, y0, x1, y1), lines, ys, tx in zip(boxes, note_lines, line_y, text_x):
    fig.add_shape(type="rect", xref="paper", yref="paper", x0=PX(x0 + 2), x1=PX(x1 + 2),
                  y0=PY(y1 + 2), y1=PY(y0 + 2), fillcolor="#8a8a8a", line_width=0, layer="above")
    ann.append(dict(x=PX(x0), y=PY(y0), xref="paper", yref="paper", xanchor="left", yanchor="top",
                    showarrow=False, text=" ", width=x1 - x0 - 2, height=y1 - y0 - 2,
                    bgcolor="white", bordercolor="#9a9a9a", borderwidth=1, borderpad=0))
    for t, yy in zip(lines, ys):
        ann.append(dict(x=PX(tx), y=PY(yy), xref="paper", yref="paper", xanchor="left",
                        yanchor="middle", showarrow=False, text=t,
                        font=dict(size=9.4, color="#f01414", family="Liberation Sans, Arial, sans-serif",
                                  weight="bold")))

fig.update_layout(annotations=ann)
fig.write_html("out.html", config={"displayModeBar": False})
